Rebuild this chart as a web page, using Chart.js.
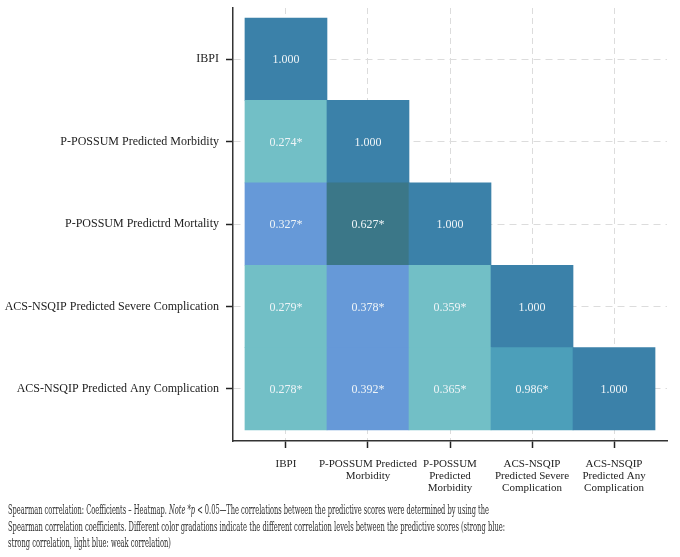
<!DOCTYPE html>
<html>
<head>
<meta charset="utf-8">
<script src="https://cdn.jsdelivr.net/npm/chart.js@4/dist/chart.umd.min.js"></script>
<style>
  html, body { margin: 0; padding: 0; background: #ffffff; }
  #wrap { position: relative; width: 680px; height: 557px; overflow: hidden; }
  #chartBox { position: absolute; left: 0; top: 0; width: 680px; height: 510px; }
  #caption { position: absolute; left: 8px; top: 502px; font-family: "DejaVu Serif Condensed", "DejaVu Serif", serif; font-size: 12.5px; color: #2e2e2e; line-height: 16.5px; }
  #caption div { white-space: nowrap; transform-origin: 0 0; width: max-content; }
</style>
</head>
<body>
<div id="wrap">
  <div id="chartBox"><canvas id="c"></canvas></div>
  <div id="caption">
    <div data-w="481">Spearman correlation: Coefficients – Heatmap. <i>Note</i> *<i>p</i> &lt; 0.05—The correlations between the predictive scores were determined by using the</div>
    <div data-w="497">Spearman correlation coefficients. Different color gradations indicate the different correlation levels between the predictive scores (strong blue:</div>
    <div data-w="163">strong correlation, light blue: weak correlation)</div>
  </div>
</div>
<script>
// ---- data ----
const rowLabels = [
  "IBPI",
  "P-POSSUM Predicted Morbidity",
  "P-POSSUM Predictrd Mortality",
  "ACS-NSQIP Predicted Severe Complication",
  "ACS-NSQIP Predicted Any Complication"
];
const colLabels = [
  ["IBPI"],
  ["P-POSSUM Predicted", "Morbidity"],
  ["P-POSSUM", "Predicted", "Morbidity"],
  ["ACS-NSQIP", "Predicted Severe", "Complication"],
  ["ACS-NSQIP", "Predicted Any", "Complication"]
];
const row0 = [1.000];
const row1 = [0.274, 1.000];
const row2 = [0.327, 0.627, 1.000];
const row3 = [0.279, 0.378, 0.359, 1.000];
const row4 = [0.278, 0.392, 0.365, 0.986, 1.000];
const correlations = [row0, row1, row2, row3, row4];
const significant = [
  [false],
  [true, false],
  [true, true, false],
  [true, true, true, false],
  [true, true, true, true, false]
];

// ---- styles ----
const palette = {
  diag: "#3b81a9",
  light: "#72bfc6",
  corn: "#6699d8",
  dteal: "#3b7788",
  mid: "#4c9fba"
};
const cellStyle = [
  ["diag"],
  ["light", "diag"],
  ["corn", "dteal", "diag"],
  ["light", "corn", "light", "diag"],
  ["light", "corn", "light", "mid", "diag"]
];

const points = [];
const colors = [];
const texts = [];
correlations.forEach((row, r) => {
  row.forEach((v, c) => {
    points.push({ x: c, y: [r - 0.5, r + 0.5] });
    colors.push(palette[cellStyle[r][c]]);
    texts.push(v.toFixed(3) + (significant[r][c] ? "*" : ""));
  });
});

const cellTextPlugin = {
  id: "cellText",
  afterDatasetsDraw(chart) {
    const ctx = chart.ctx;
    const meta = chart.getDatasetMeta(0);
    ctx.save();
    ctx.font = '12px "Liberation Serif"';
    ctx.fillStyle = "#eef4f7";
    ctx.textAlign = "center";
    ctx.textBaseline = "middle";
    meta.data.forEach((el, i) => {
      const p = el.getProps(["x", "y", "base"], true);
      ctx.fillText(texts[i], p.x, (p.y + p.base) / 2 + 1);
    });
    ctx.restore();
  }
};

const gridCommon = {
  color: "#dcdcdc",
  lineWidth: 1,
  tickLength: 7,
  tickColor: "#222",
  tickWidth: 1.5,
  tickBorderDash: [],
  offset: false
};

new Chart(document.getElementById("c"), {
  type: "bar",
  data: {
    datasets: [{
      data: points,
      backgroundColor: colors,
      borderWidth: 0,
      barPercentage: 1,
      categoryPercentage: 1,
      grouped: false
    }]
  },
  options: {
    responsive: true,
    maintainAspectRatio: false,
    animation: false,
    layout: { padding: { top: 8, right: 13, left: 0, bottom: 0 } },
    plugins: { legend: { display: false }, tooltip: { enabled: false } },
    scales: {
      x: {
        type: "linear",
        min: -0.646,
        max: 4.646,
        offset: false,
        afterBuildTicks: (s) => { s.ticks = s.ticks.filter(t => Number.isInteger(t.value) && t.value >= 0 && t.value <= 4); },
        afterFit: (s) => { s.height = 69; s.paddingLeft = 0; s.paddingRight = 0; },
        grid: gridCommon,
        border: { display: true, color: "#333", width: 1.5, dash: [6, 4] },
        ticks: {
          stepSize: 1,
          autoSkip: false,
          maxRotation: 0,
          padding: 10,
          color: "#222",
          font: { family: "Liberation Serif", size: 11, lineHeight: 1.08 },
          callback: (v) => colLabels[v]
        }
      },
      y: {
        type: "linear",
        reverse: true,
        min: -0.621,
        max: 4.633,
        afterBuildTicks: (s) => { s.ticks = s.ticks.filter(t => Number.isInteger(t.value) && t.value >= 0 && t.value <= 4); },
        afterFit: (s) => { s.width = 233; s.paddingTop = 0; s.paddingBottom = 0; },
        grid: gridCommon,
        border: { display: true, color: "#333", width: 1.5, dash: [7, 5] },
        ticks: {
          stepSize: 1,
          autoSkip: false,
          padding: 7,
          color: "#222",
          font: { family: "Liberation Serif", size: 12 },
          callback: (v) => rowLabels[v]
        }
      }
    }
  },
  plugins: [cellTextPlugin]
});

// fit caption lines to their widths
document.querySelectorAll("#caption div").forEach(d => {
  const w = d.getBoundingClientRect().width;
  const target = parseFloat(d.dataset.w);
  d.style.transform = "scaleX(" + (target / w) + ")";
});
</script>
</body>
</html>
